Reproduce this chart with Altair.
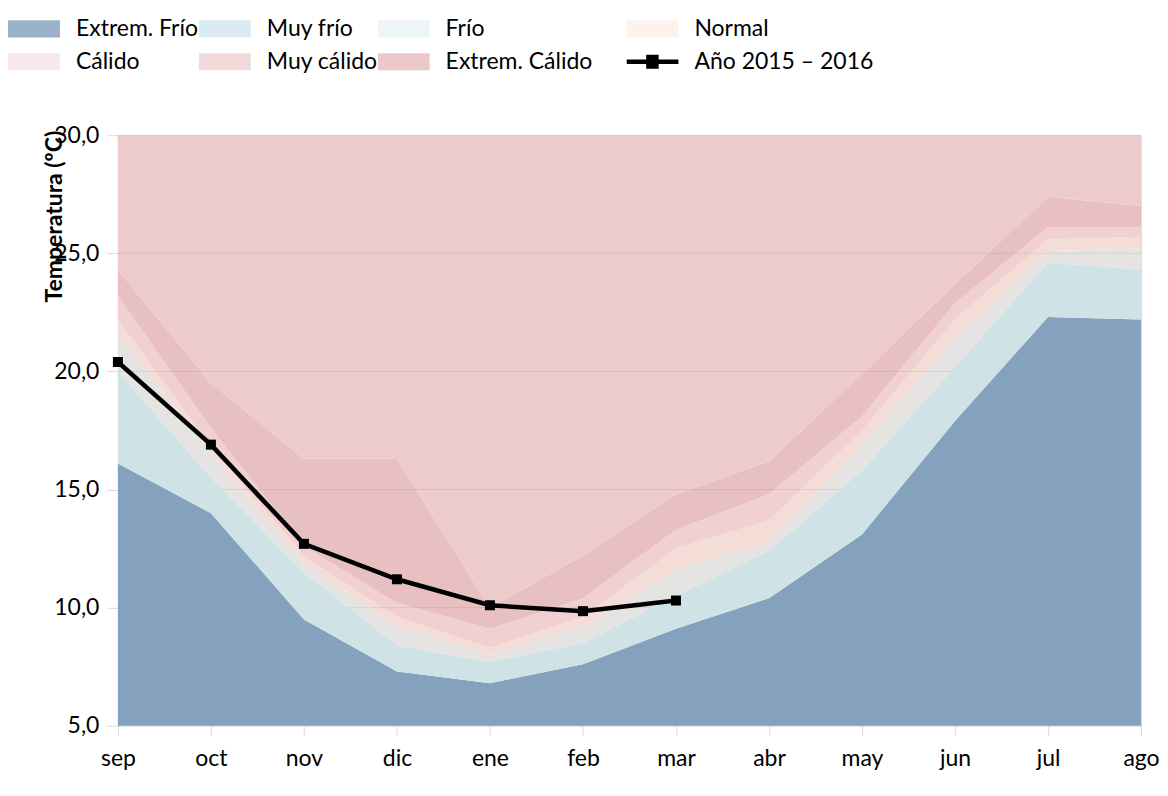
import altair as alt
import pandas as pd

months = ["sep", "oct", "nov", "dic", "ene", "feb", "mar", "abr", "may", "jun", "jul", "ago"]

bands = ["Extrem. Frío", "Muy frío", "Frío", "Normal", "Cálido", "Muy cálido", "Extrem. Cálido"]
cold_bands = ["Extrem. Frío", "Muy frío"]
line_name = "Año 2015 – 2016"

# upper limit of each band (ºC) per month
top_extrem_frio = [16.1, 14.0, 9.5, 7.3, 6.8, 7.6, 9.1, 10.4, 13.1, 17.9, 22.3, 22.2]
top_muy_frio = [20.0, 15.5, 11.5, 8.4, 7.7, 8.5, 10.5, 12.4, 15.8, 20.2, 24.6, 24.3]
top_frio = [21.6, 16.5, 11.9, 9.2, 8.0, 9.2, 11.6, 12.8, 16.9, 21.4, 25.1, 25.2]
top_normal = [22.2, 16.8, 12.2, 9.6, 8.3, 9.6, 12.5, 13.7, 17.5, 22.2, 25.6, 25.7]
top_calido = [23.2, 17.6, 12.6, 10.2, 9.1, 10.4, 13.3, 14.8, 18.1, 22.9, 26.1, 26.1]
top_muy_calido = [24.3, 19.5, 16.3, 16.3, 10.0, 12.2, 14.8, 16.2, 19.9, 23.7, 27.4, 27.0]
top_extrem_calido = [30.0] * 12
base = [5.0] * 12

# observed year
line_months = ["sep", "oct", "nov", "dic", "ene", "feb", "mar"]
line_values = [20.4, 16.9, 12.7, 11.2, 10.1, 9.85, 10.3]

y_ticks = [5, 10, 15, 20, 25, 30]

area_colors = ["#84a2bd", "#cfe2e6", "#e6e4e3", "#f4ddd7", "#f0d0d0", "#e9c0c2", "#edcbcc"]
legend_colors = ["#9bb2ca", "#daecf2", "#edf5f8", "#fdf3ec", "#f9e9ea", "#f2dadb", "#ecc8c9", "#000000"]

rect_path = "M-1,-0.33L1,-0.33L1,0.33L-1,0.33Z"
line_path = "M-1,-0.085L1,-0.085L1,0.085L-1,0.085Z M-0.24,-0.27L0.24,-0.27L0.24,0.27L-0.24,0.27Z"
legend_shapes = [rect_path] * 7 + [line_path]

levels = [base, top_extrem_frio, top_muy_frio, top_frio, top_normal,
          top_calido, top_muy_calido, top_extrem_calido]
rows = []
for b, name in enumerate(bands):
    for i, m in enumerate(months):
        rows.append({"mes": m, "banda": name, "lo": levels[b][i], "hi": levels[b + 1][i],
                     "frio": name in cold_bands})
area_df = pd.DataFrame(rows)
line_df = pd.DataFrame({"mes": line_months, "temp": line_values})
legend_df = pd.DataFrame({"serie": bands + [line_name]})
grid_df = pd.DataFrame({"v": y_ticks})

FONT = "Lato"

x_enc = alt.X("mes:O", sort=months,
              scale=alt.Scale(type="point", padding=0, domain=months),
              axis=alt.Axis(title=None, labelAngle=0, labelFont=FONT, labelFontSize=23,
                            labelColor="#000000", labelPadding=12, tickSize=10,
                            tickColor="#d9d9d9", domain=False, grid=False))

y_axis = alt.Axis(values=y_ticks,
                  labelExpr="replace(format(datum.value, '.1f'), '.', ',')",
                  labelFont=FONT, labelFontSize=23, labelColor="#000000", labelPadding=8,
                  tickSize=11, tickColor="#d9d9d9", domain=False, grid=False,
                  title="Temperatura (ºC)", titleFont=FONT, titleFontSize=23,
                  titleFontWeight="bold", titleColor="#000000",
                  titleX=-63, titleY=81, titleAlign="center", titleBaseline="middle")

fill_scale = alt.Scale(domain=bands, range=area_colors)
y_scale = alt.Scale(domain=[5, 30], nice=False, zero=False)

warm = alt.Chart(area_df).transform_filter("!datum.frio").mark_area(
    interpolate="linear", opacity=1).encode(
    x=x_enc,
    y=alt.Y("hi:Q", scale=y_scale, axis=y_axis),
    y2="lo:Q",
    fill=alt.Fill("banda:N", scale=fill_scale, legend=None),
)

grid = alt.Chart(grid_df).mark_rule(color="#000000", opacity=0.08, strokeWidth=1).encode(
    y=alt.Y("v:Q"),
)

cold = alt.Chart(area_df).transform_filter("datum.frio").mark_area(
    interpolate="linear", opacity=1).encode(
    x=alt.X("mes:O", sort=months),
    y=alt.Y("hi:Q"),
    y2="lo:Q",
    fill=alt.Fill("banda:N", scale=fill_scale, legend=None),
)

line = alt.Chart(line_df).mark_line(
    color="#000000", strokeWidth=4.5,
    point=alt.OverlayMarkDef(shape="square", size=100, color="#000000", filled=True, opacity=1),
).encode(
    x=alt.X("mes:O", sort=months),
    y=alt.Y("temp:Q"),
)

blank = "\u2800\u2800"
leg = dict(orient="none", legendX=-110, legendY=-123, columns=4, direction="horizontal",
           title=None, symbolSize=2704, symbolStrokeWidth=0, labelFont=FONT, labelFontSize=23,
           labelColor="#000000", labelOffset=16, columnPadding=0, rowPadding=0,
           clipHeight=33, labelLimit=0, symbolOpacity=1,
           labelExpr="datum.label == 'Extrem. Cálido' ? datum.label + '" + blank + "' : datum.label")

legend_layer = alt.Chart(legend_df).mark_point(filled=True, opacity=1).encode(
    color=alt.Color("serie:N", scale=alt.Scale(domain=bands + [line_name], range=legend_colors),
                    legend=alt.Legend(**leg)),
    shape=alt.Shape("serie:N", scale=alt.Scale(domain=bands + [line_name], range=legend_shapes),
                    legend=alt.Legend(**leg)),
).transform_filter("false")

chart = alt.layer(warm, grid, cold, line, legend_layer).properties(
    width=1024, height=591,
    padding={"left": 0, "top": 4, "right": 0, "bottom": 5},
).configure_view(stroke=None).configure(background="#ffffff")

chart.save("out.html", embed_options={"renderer": "svg", "actions": False})
